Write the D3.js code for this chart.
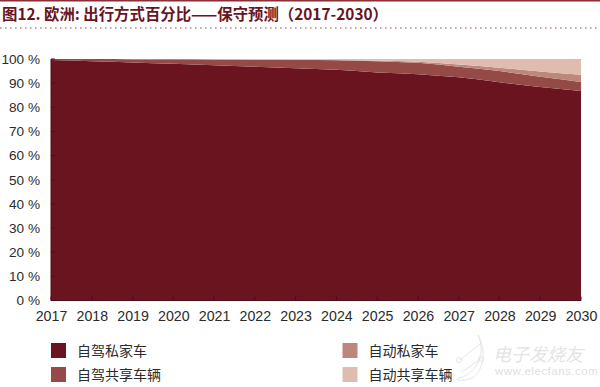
<!DOCTYPE html>
<html>
<head>
<meta charset="utf-8">
<script src="https://cdn.jsdelivr.net/npm/d3@7"></script>
<style>
html, body { margin: 0; padding: 0; background: #fff; }
svg { display: block; }
</style>
</head>
<body>
<svg id="chart"></svg>
<script>
// data

var years = [2017,2018,2019,2020,2021,2022,2023,2024,2025,2026,2027,2028,2029,2030];
var selfPrivate = [99.6,99.1,98.6,98.0,97.4,96.8,96.2,95.5,94.4,93.7,92.4,90.4,88.4,86.7];
var selfShared  = [0.4,0.85,1.3,1.9,2.4,2.9,3.4,4.0,4.7,4.7,4.4,4.6,4.2,3.8];
var autoPrivate = [0,0,0,0,0,0,0.05,0.1,0.2,0.5,0.9,1.4,2.2,3.0];
var autoShared  = [0,0.05,0.1,0.1,0.2,0.3,0.35,0.4,0.7,1.1,2.3,3.6,5.2,6.5];

var seriesNames = ["自驾私家车","自驾共享车辆","自动私家车","自动共享车辆"];
var seriesValues = [selfPrivate, selfShared, autoPrivate, autoShared];
var colors = ["#69141f","#954a48","#bd877c","#e0bbb0"];
var yTicks = [0,10,20,30,40,50,60,70,80,90,100];
var title = "图12. 欧洲: 出行方式百分比——保守预测（2017-2030）";

var svgWidth = 600, svgHeight = 387;
var plotLeft = 51, plotRight = 581, plotTop = 59, plotBottom = 300.5;
var latin = "'Liberation Sans','Noto Sans CJK SC',sans-serif";
var cjk = "'Noto Sans CJK SC',sans-serif";

var svg = d3.select("#chart")
    .attr("width", svgWidth)
    .attr("height", svgHeight);

var xScale = d3.scaleLinear()
    .domain([2017,2030])
    .range([plotLeft, plotRight]);

var yScale = d3.scaleLinear()
    .domain([0,100])
    .range([plotBottom, plotTop]);

// header

svg.append("rect")
    .attr("width", svgWidth)
    .attr("height", 1.5)
    .attr("fill", "#8c2d35");

svg.append("text")
    .text(title)
    .attr("x", 2)
    .attr("y", 19.5)
    .attr("font-family", cjk)
    .attr("font-weight", 700)
    .attr("font-size", 15.4)
    .attr("fill", "#69141f");

svg.append("line")
    .attr("x1", 0)
    .attr("x2", svgWidth)
    .attr("y1", 28)
    .attr("y2", 28)
    .attr("stroke", "#8c4a50")
    .attr("stroke-width", 1.2)
    .attr("stroke-dasharray", "1.5 3.5");

// stacked areas

var rows = years.map(function (y, i) {
    var row = {year: y};
    seriesNames.forEach(function (n, j) { row[n] = seriesValues[j][i]; });
    return row;
});

var stacked = d3.stack().keys(seriesNames)(rows);

var area = d3.area()
    .x(function (d) { return xScale(d.data.year); })
    .y0(function (d) { return yScale(d[0]); })
    .y1(function (d) { return yScale(d[1]); })
    .curve(d3.curveMonotoneX);

svg.append("g")
    .selectAll("path")
    .data(stacked)
    .enter()
    .append("path")
    .attr("d", area)
    .attr("fill", function (d, i) { return colors[i]; });

// axes

var xAxis = svg.append("g")
    .attr("transform", "translate(0," + plotBottom + ")")
    .call(d3.axisBottom(xScale)
        .tickValues(years)
        .tickFormat(d3.format("d"))
        .tickSize(0)
        .tickPadding(10));

var yAxis = svg.append("g")
    .attr("transform", "translate(" + plotLeft + ",0)")
    .call(d3.axisLeft(yScale)
        .tickValues(yTicks)
        .tickFormat(function (d) { return d + " %"; })
        .tickSize(0)
        .tickPadding(11));

xAxis.select(".domain").remove();
yAxis.select(".domain").remove();

xAxis.selectAll("text")
    .attr("font-family", latin)
    .attr("font-size", 14.2)
    .attr("fill", "#2b2b2b");

yAxis.selectAll("text")
    .attr("font-family", latin)
    .attr("font-size", 13.6)
    .attr("fill", "#2b2b2b");

// small inner ticks on the base line and the left edge

svg.append("g")
    .selectAll("line")
    .data(years)
    .enter()
    .append("line")
    .attr("x1", function (d) { return xScale(d); })
    .attr("x2", function (d) { return xScale(d); })
    .attr("y1", plotBottom)
    .attr("y2", plotBottom - 4)
    .attr("stroke", "#4c0e16");

svg.append("g")
    .selectAll("line")
    .data(yTicks)
    .enter()
    .append("line")
    .attr("x1", plotLeft)
    .attr("x2", plotLeft + 4)
    .attr("y1", function (d) { return yScale(d); })
    .attr("y2", function (d) { return yScale(d); })
    .attr("stroke", "#4c0e16");

svg.append("line")
    .attr("x1", plotLeft)
    .attr("x2", plotRight)
    .attr("y1", plotBottom)
    .attr("y2", plotBottom)
    .attr("stroke", "#4c0e16");

svg.append("line")
    .attr("x1", plotLeft)
    .attr("x2", plotLeft)
    .attr("y1", plotTop)
    .attr("y2", plotBottom)
    .attr("stroke", "#4c0e16");

// legend

var legendX = [51, 342.5, 51, 342.5];
var legendY = [343, 343, 367, 367];
var legendOrder = [0, 2, 1, 3];

var legend = svg.append("g")
    .selectAll("g")
    .data(legendOrder)
    .enter()
    .append("g")
    .attr("transform", function (d, i) {
        return "translate(" + [legendX[i], legendY[i]] + ")";
    });

legend.append("rect")
    .attr("width", 15)
    .attr("height", 15)
    .attr("fill", function (d) { return colors[d]; });

legend.append("text")
    .text(function (d) { return seriesNames[d]; })
    .attr("x", 26)
    .attr("y", 12.5)
    .attr("font-family", cjk)
    .attr("font-size", 14)
    .attr("fill", "#2b2b2b");

// watermark

var mark = svg.append("g")
    .attr("fill", "none")
    .attr("stroke", "#e6e6e6")
    .attr("stroke-width", 1);

mark.append("path").attr("d", "M478,335 C486,352 478,372 460,378 C452,380 462,382 472,378 C482,372 488,354 478,335");
mark.append("path").attr("d", "M460,360 L480,344 M462,372 L482,358");
mark.append("circle").attr("cx", 459).attr("cy", 360).attr("r", 2.5);
mark.append("circle").attr("cx", 481).attr("cy", 359).attr("r", 2.5);

svg.append("text")
    .text("电子发烧友")
    .attr("x", 493)
    .attr("y", 361)
    .attr("font-family", cjk)
    .attr("font-size", 18)
    .attr("font-style", "italic")
    .attr("fill", "#e4e4e4");

svg.append("text")
    .text("www.elecfans.com")
    .attr("x", 495)
    .attr("y", 375)
    .attr("font-family", latin)
    .attr("font-size", 11.5)
    .attr("letter-spacing", 0.5)
    .attr("fill", "#e0e0e0");
</script>
</body>
</html>
